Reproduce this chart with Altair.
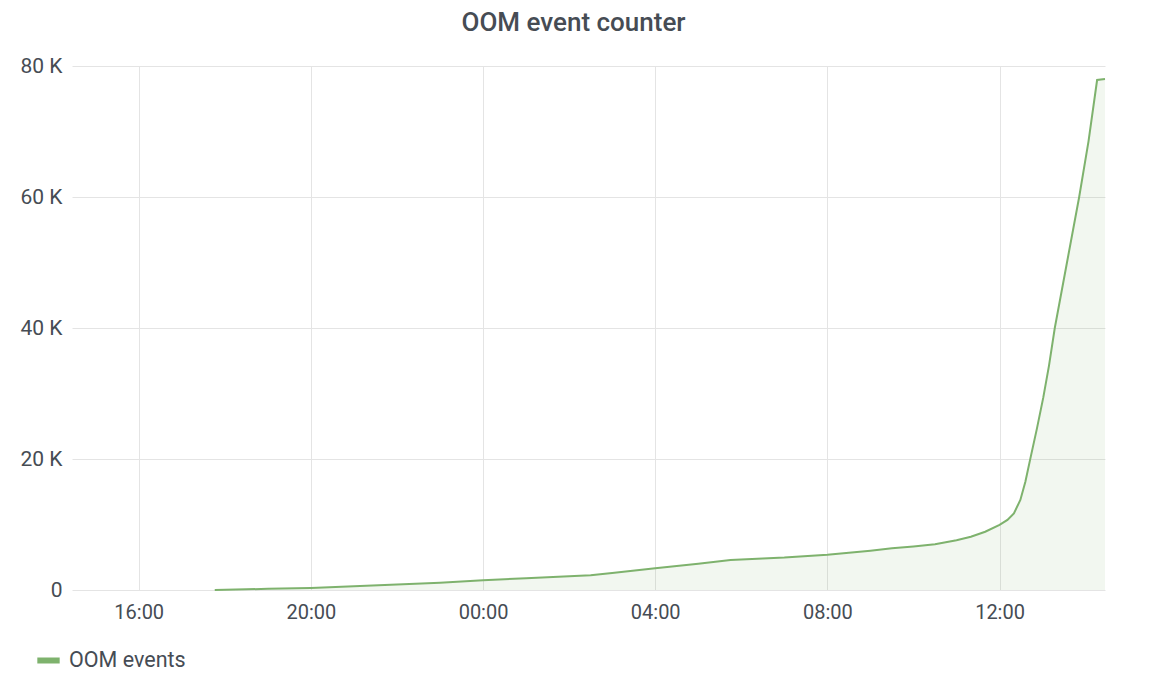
import altair as alt
import pandas as pd

# Timestamps (local time) and cumulative OOM event counts
times = [
    "2023-01-01T17:46", "2023-01-01T18:30", "2023-01-01T19:00", "2023-01-01T20:00",
    "2023-01-01T21:00", "2023-01-01T22:00", "2023-01-01T23:00", "2023-01-02T00:00",
    "2023-01-02T01:00", "2023-01-02T02:00", "2023-01-02T02:30", "2023-01-02T03:00",
    "2023-01-02T04:00", "2023-01-02T05:00", "2023-01-02T05:45", "2023-01-02T06:30",
    "2023-01-02T07:00", "2023-01-02T08:00", "2023-01-02T09:00", "2023-01-02T09:30",
    "2023-01-02T10:00", "2023-01-02T10:30", "2023-01-02T11:00", "2023-01-02T11:20",
    "2023-01-02T11:40", "2023-01-02T12:00", "2023-01-02T12:11", "2023-01-02T12:20",
    "2023-01-02T12:29", "2023-01-02T12:36", "2023-01-02T12:43",
    "2023-01-02T12:52", "2023-01-02T13:01", "2023-01-02T13:09", "2023-01-02T13:17",
    "2023-01-02T13:34", "2023-01-02T13:51", "2023-01-02T14:04", "2023-01-02T14:16",
    "2023-01-02T14:27",
]
values = [
    0, 100, 180, 300,
    560, 830, 1120, 1480,
    1800, 2100, 2250, 2600,
    3310, 4000, 4580, 4800,
    4950, 5400, 6000, 6360,
    6650, 7000, 7600, 8140,
    8900, 9950, 10700, 11700,
    13740, 16540, 20100,
    24600, 29400, 34300, 40000,
    50000, 60000, 68500, 77860,
    78000,
]
series_name = "OOM events"
y_ticks = [0, 20000, 40000, 60000, 80000]
# x tick positions: (day, hour)
x_tick_pos = [(1, 16), (1, 20), (2, 0), (2, 4), (2, 8), (2, 12)]

df = pd.DataFrame({"time": times, "value": values, "series": series_name})

x_domain = [
    alt.DateTime(year=2023, month=1, date=1, hours=14, minutes=27),
    alt.DateTime(year=2023, month=1, date=2, hours=14, minutes=27),
]
x_ticks = [alt.DateTime(year=2023, month=1, date=d, hours=h) for d, h in x_tick_pos]

green = "#7EB26D"
text_color = "#464c54"
grid_color = "#e4e4e4"

x = alt.X(
    "time:T",
    scale=alt.Scale(domain=x_domain),
    axis=alt.Axis(
        title=None, format="%H:%M", values=x_ticks,
        grid=True, gridColor=grid_color, ticks=False, domain=False,
        labelFont="Roboto", labelFontSize=20, labelColor=text_color, labelPadding=12,
    ),
)
y = alt.Y(
    "value:Q",
    scale=alt.Scale(domain=[0, 80000]),
    axis=alt.Axis(
        title=None, values=y_ticks,
        labelExpr="datum.value == 0 ? '0' : (datum.value / 1000) + ' K'",
        grid=True, gridColor=grid_color, ticks=False, domain=False,
        labelFont="Roboto", labelFontSize=21, labelColor=text_color, labelPadding=10,
    ),
)

color = alt.Color(
    "series:N",
    scale=alt.Scale(domain=[series_name], range=[green]),
    legend=alt.Legend(
        title=None, orient="none", legendX=-38, legendY=580,
        symbolType="stroke", symbolStrokeWidth=6, symbolSize=500,
        labelFont="Roboto", labelFontSize=21.5, labelColor=text_color, labelOffset=6,
    ),
)

area = alt.Chart(df).mark_area(color=green, opacity=0.1).encode(x=x, y=y)
line = alt.Chart(df).mark_line(strokeWidth=2).encode(x=x, y=y, color=color)

chart = (
    alt.layer(area, line)
    .properties(
        width=1033,
        height=524,
        title=alt.TitleParams(
            "OOM event counter", font="Roboto", fontSize=26, fontWeight=500,
            color=text_color, anchor="middle", offset=19, dx=-15,
        ),
        autosize=alt.AutoSizeParams(type="none"),
        padding={"left": 64, "top": 58, "right": 30, "bottom": 96},
    )
    .configure_view(stroke=None)
)

chart.save("out.html", embed_options={"renderer": "svg", "actions": False})
